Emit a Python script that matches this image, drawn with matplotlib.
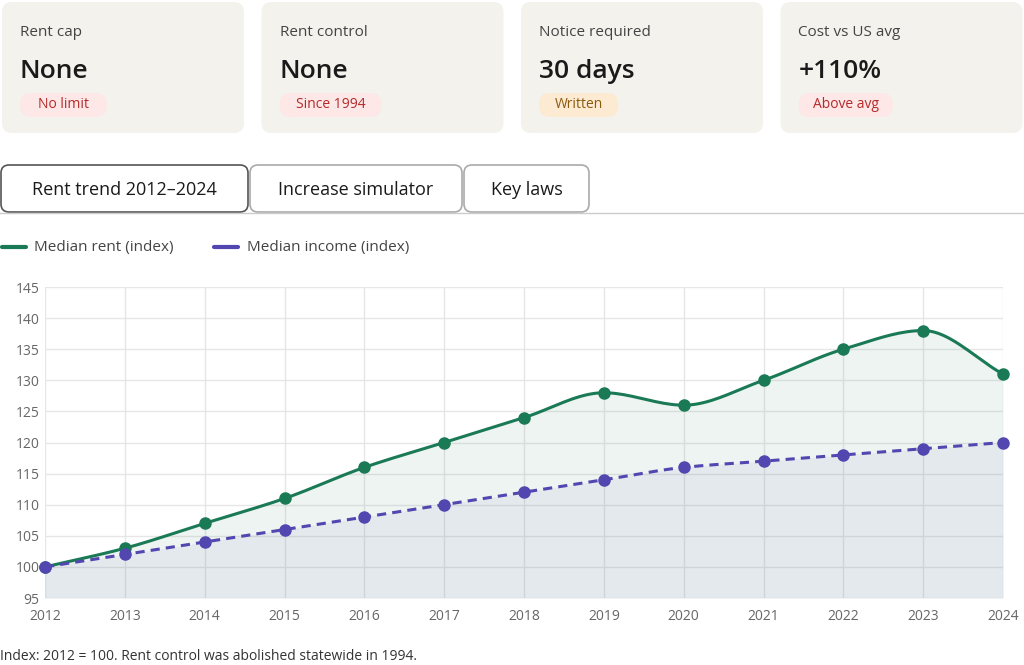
import numpy as np
import matplotlib
matplotlib.use("Agg")
import matplotlib.pyplot as plt
from matplotlib.patches import FancyBboxPatch

plt.rcParams["font.family"] = ["Open Sans", "DejaVu Sans"]

# ---------------------------------------------------------------------------
# Data
# ---------------------------------------------------------------------------
years = [2012, 2013, 2014, 2015, 2016, 2017, 2018, 2019, 2020, 2021, 2022, 2023, 2024]
rent_index = [100, 103, 107, 111, 116, 120, 124, 128, 126, 130, 135, 138, 131]
income_index = [100, 102, 104, 106, 108, 110, 112, 114, 116, 117, 118, 119, 120]

card_titles = ["Rent cap", "Rent control", "Notice required", "Cost vs US avg"]
card_values = ["None", "None", "30 days", "+110%"]
card_badges = ["No limit", "Since 1994", "Written", "Above avg"]
tab_labels = ["Rent trend 2012\u20132024", "Increase simulator", "Key laws"]

RENT_C = "#1b7a56"
INC_C = "#5247b0"
W, H = 1024, 665


def smooth(x, y, n=20):
    """Monotone cubic (Fritsch-Carlson) curve through the points, for drawing."""
    x = np.asarray(x, float); y = np.asarray(y, float)
    h = np.diff(x); d = np.diff(y) / h
    m = np.zeros_like(y)
    m[0], m[-1] = d[0], d[-1]
    for i in range(1, len(y) - 1):
        if d[i - 1] * d[i] <= 0:
            m[i] = 0
        else:
            m[i] = 2 / (1 / d[i - 1] + 1 / d[i])
    xs, ys = [], []
    for i in range(len(h)):
        t = np.linspace(0, 1, n, endpoint=False)
        h00 = 2*t**3 - 3*t**2 + 1; h10 = t**3 - 2*t**2 + t
        h01 = -2*t**3 + 3*t**2; h11 = t**3 - t**2
        xs.append(x[i] + t*h[i])
        ys.append(h00*y[i] + h10*h[i]*m[i] + h01*y[i+1] + h11*h[i]*m[i+1])
    xs.append([x[-1]]); ys.append([y[-1]])
    return np.concatenate(xs), np.concatenate(ys)


fig = plt.figure(figsize=(W / 100, H / 100), dpi=100)
fig.patch.set_facecolor("white")
bg = fig.add_axes([0, 0, 1, 1])
bg.set_xlim(0, W); bg.set_ylim(H, 0); bg.axis("off")

# cards
badge_bg = ["#fde7e7", "#fde7e7", "#fcebd2", "#fde7e7"]
badge_fg = ["#b42a2a", "#b42a2a", "#8a5a10", "#b42a2a"]
for i, (t, v, b) in enumerate(zip(card_titles, card_values, card_badges)):
    x0 = 0 + i * 259.5
    bg.add_patch(FancyBboxPatch((x0 + 2, 2), 242, 131, boxstyle="round,pad=0,rounding_size=10",
                                fc="#f3f2ec", ec="none"))
    bg.text(x0 + 20, 32, t, fontsize=11, color="#444444", va="center")
    bg.text(x0 + 20, 72, v, fontsize=19, color="#1a1a1a", va="center", fontweight="semibold")
    bw = len(b) * 7.6 + 26
    bg.add_patch(FancyBboxPatch((x0 + 20, 93), bw, 24, boxstyle="round,pad=0,rounding_size=11",
                                fc=badge_bg[i], ec="none"))
    bg.text(x0 + 20 + bw / 2, 105, b, fontsize=10, color=badge_fg[i], va="center", ha="center")

# tabs
tab_x = [1, 250, 464]; tab_w = [247, 212, 125]
for i, (lab, x0, w) in enumerate(zip(tab_labels, tab_x, tab_w)):
    bg.add_patch(FancyBboxPatch((x0, 165), w, 47, boxstyle="round,pad=0,rounding_size=8",
                                fc="white", ec="#555555" if i == 0 else "#aaaaaa", lw=1.2))
    bg.text(x0 + w / 2, 190, lab, fontsize=13, color="#1a1a1a", ha="center", va="center",
            fontweight="medium" if i == 0 else "normal")
bg.plot([0, W], [213, 213], color="#cccccc", lw=1)

# legend
bg.plot([2, 26], [247, 247], color=RENT_C, lw=3, solid_capstyle="round")
bg.text(34, 247, "Median rent (index)", fontsize=11, color="#444444", va="center")
bg.plot([214, 238], [247, 247], color=INC_C, lw=3, solid_capstyle="round")
bg.text(247, 247, "Median income (index)", fontsize=11, color="#444444", va="center")

bg.text(0, 657, "Index: 2012 = 100. Rent control was abolished statewide in 1994.",
        fontsize=10, color="#333333", va="center")

# chart
ax = fig.add_axes([45 / W, 1 - 598 / H, (1003 - 45) / W, (598 - 287) / H])
ax.set_xlim(years[0], years[-1]); ax.set_ylim(95, 145)
xr, yr = smooth(years, rent_index)
xi, yi = smooth(years, income_index)
ax.fill_between(xr, 95, yr, color=RENT_C, alpha=0.08, lw=0)
ax.fill_between(xi, 95, yi, color=INC_C, alpha=0.06, lw=0)
ax.plot(xr, yr, color=RENT_C, lw=2.2)
ax.plot(xi, yi, color=INC_C, lw=2.2, ls=(0, (3, 2)))
ax.plot(years, rent_index, "o", color=RENT_C, ms=8, clip_on=False)
ax.plot(years, income_index, "o", color=INC_C, ms=8, clip_on=False)
ax.set_xticks(years); ax.set_yticks(range(95, 146, 5))
ax.grid(color="#e6e6e6", lw=1)
ax.set_axisbelow(True)
for s in ax.spines.values():
    s.set_visible(False)
ax.tick_params(colors="#666666", labelsize=10, length=0, pad=8)
ax.tick_params(axis="y", pad=4)

fig.savefig("out.png", dpi=100)
